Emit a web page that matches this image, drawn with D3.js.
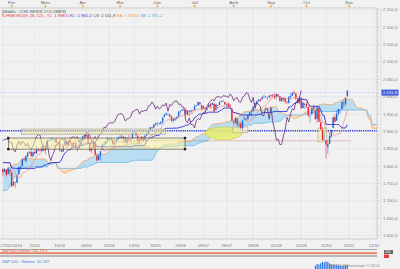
<!DOCTYPE html>
<html><head><meta charset="utf-8">
<script src="https://cdn.jsdelivr.net/npm/d3@7/dist/d3.min.js"></script>
<style>body{margin:0;background:#f1f1f1}svg{display:block}</style>
</head><body>
<script>
// ---- prehistory (Oct 2013 - Jan 24 2014), highs/lows only, needed for Ichimoku look-back
const preHigh=[1691,1687,1677,1663,1693,1703,1711,1711,1721,1733,1745,1747,1759,1753,1754,1760,1764,1772,1775,1768,
1765,1768,1767,1774,1774,1771,1773,1771,1782,1791,1798,1802,1795,1794,1797,1805,1808,1808,1808,1814,
1807,1800,1800,1793,1806,1812,1808,1805,1782,1780,1792,1787,1811,1810,1823,1829,1833,1842,1844,1842,1849,
1845,1838,1837,1840,1840,1843,1844,1843,1839,1850,1848,1846,1849,1847,1841,1826];
const preLow=[1676,1675,1655,1646,1660,1688,1686,1695,1699,1714,1733,1740,1744,1742,1747,1752,1757,1764,1757,1755,
1753,1761,1756,1765,1747,1746,1767,1763,1761,1781,1790,1788,1784,1778,1785,1794,1801,1801,1803,1804,
1798,1788,1779,1783,1791,1805,1801,1780,1773,1770,1775,1777,1767,1801,1810,1822,1828,1835,1840,1839,1842,
1828,1829,1824,1829,1831,1830,1830,1815,1820,1839,1840,1835,1833,1840,1821,1790];
// ---- daily candles 27/01/2014 -> 31/10/2014
const opens=[1791,1783,1790,1777,1790,1782,1744,1753,1752,1776,1796,1800,1820,1815,1828,1839,1841,1829,1841,1837,
1848,1846,1844,1856,1858,1849,1874,1874,1878,1877,1878,1867,1869,1845,1842,1859,1872,1860,1874,1867,
1859,1867,1852,1851,1859,1873,1886,1891,1890,1864,1845,1852,1872,1830,1818,1831,1846,1861,1865,1872,
1879,1876,1876,1865,1870,1876,1884,1885,1880,1884,1868,1878,1875,1880,1896,1897,1888,1871,1876,1884,
1874,1888,1893,1902,1911,1911,1920,1924,1923,1923,1928,1942,1948,1950,1949,1944,1931,1934,1937,1942,
1958,1960,1963,1962,1949,1960,1957,1961,1962,1973,1975,1984,1976,1966,1966,1965,1970,1978,1977,1979,
1962,1976,1976,1985,1988,1985,1978,1980,1974,1966,1929,1926,1937,1918,1923,1910,1934,1936,1935,1947,
1958,1958,1973,1980,1987,1992,1992,1998,2000,1998,1999,2004,2004,2001,1999,2007,2002,1988,1992,1996,
1986,1982,1999,2003,2013,2010,1992,1983,1997,1967,1978,1979,1971,1946,1949,1970,1962,1936,1967,1926,
1905,1877,1874,1855,1864,1885,1910,1941,1931,1951,1962,1964,1983,1978,2001];
const highs=[1795,1794,1790,1798,1793,1785,1758,1755,1774,1798,1800,1823,1826,1830,1841,1843,1847,1842,1847,1858,
1853,1853,1855,1868,1858,1876,1877,1883,1884,1877,1882,1868,1875,1852,1862,1874,1875,1874,1884,1868,
1872,1876,1855,1866,1873,1886,1893,1893,1897,1865,1854,1872,1873,1836,1835,1844,1862,1869,1872,1884,
1880,1884,1877,1877,1880,1885,1889,1892,1885,1884,1884,1890,1879,1897,1903,1897,1888,1878,1886,1885,
1888,1896,1901,1912,1914,1920,1925,1926,1925,1929,1942,1950,1956,1951,1949,1945,1938,1941,1944,1958,
1961,1964,1963,1968,1960,1960,1961,1963,1978,1976,1985,1984,1976,1973,1969,1968,1979,1982,1983,1982,
1980,1976,1987,1989,1991,1985,1982,1984,1980,1966,1932,1942,1937,1929,1928,1932,1944,1940,1948,1955,
1965,1972,1982,1988,1993,1994,2001,2005,2003,1999,2004,2006,2008,2011,2008,2008,2002,1996,1997,1996,
1987,2002,2010,2012,2019,2010,1995,1999,1998,1986,1982,1985,1971,1952,1969,1977,1962,1970,1968,1935,
1912,1898,1874,1876,1898,1905,1942,1950,1961,1965,1964,1985,1991,1999,2018];
const lows=[1772,1783,1770,1777,1772,1739,1744,1737,1752,1776,1791,1800,1815,1810,1825,1835,1826,1825,1835,1837,
1842,1842,1841,1846,1834,1849,1871,1874,1874,1868,1866,1858,1843,1840,1842,1859,1851,1855,1863,1848,
1855,1852,1842,1851,1859,1873,1883,1883,1863,1841,1837,1852,1833,1815,1818,1816,1846,1857,1864,1872,
1874,1870,1860,1851,1870,1873,1878,1879,1867,1867,1862,1871,1869,1880,1895,1886,1863,1865,1872,1868,
1874,1888,1893,1902,1907,1910,1916,1915,1918,1919,1922,1941,1947,1945,1940,1928,1926,1930,1934,1939,
1951,1959,1958,1948,1947,1944,1953,1958,1962,1972,1975,1975,1959,1964,1953,1959,1970,1966,1975,1955,
1962,1965,1976,1984,1985,1975,1968,1969,1965,1931,1917,1921,1913,1911,1905,1904,1934,1930,1935,1945,
1942,1958,1973,1977,1986,1985,1992,1998,1997,1990,1995,1995,1999,1992,1992,1998,1985,1984,1986,1980,
1978,1980,1994,2003,2007,1991,1982,1978,1966,1967,1964,1968,1941,1926,1949,1958,1935,1925,1927,1906,
1874,1872,1821,1835,1864,1882,1910,1927,1931,1946,1951,1964,1970,1973,2001];
const closes=[1782,1792,1774,1794,1783,1742,1755,1752,1773,1797,1800,1820,1819,1830,1839,1841,1829,1840,1836,1848,
1845,1845,1854,1859,1846,1874,1874,1877,1878,1877,1868,1868,1846,1841,1859,1872,1861,1872,1867,1857,
1866,1853,1849,1858,1872,1886,1891,1889,1865,1845,1852,1872,1833,1816,1831,1843,1862,1865,1872,1880,
1875,1879,1863,1869,1878,1884,1884,1881,1885,1868,1878,1876,1878,1897,1897,1889,1871,1878,1885,1873,
1888,1892,1901,1912,1910,1920,1924,1925,1924,1928,1940,1949,1951,1951,1944,1930,1936,1938,1942,1957,
1959,1963,1963,1950,1960,1957,1961,1960,1973,1975,1985,1978,1964,1973,1965,1968,1977,1973,1982,1958,
1978,1974,1984,1987,1988,1978,1979,1970,1970,1931,1925,1939,1920,1920,1910,1932,1937,1934,1947,1955,
1955,1972,1982,1987,1992,1988,1998,2000,2000,1997,2003,2002,2001,1998,2008,2002,1988,1996,1997,1986,
1984,1999,2002,2011,2010,1994,1983,1998,1966,1983,1978,1972,1946,1946,1968,1965,1935,1969,1928,1906,
1875,1878,1862,1863,1887,1904,1941,1927,1951,1965,1962,1985,1982,1995,2018];
// volume bars (last sessions only shown by the feed)
const volStart=176;
const volumes=[3.1,4.6,4.2,5.4,6.6,6.1,7.0,6.4,5.2,4.0,4.4,3.7,3.9,3.2,3.1,3.0,3.3,3.4,4.1];

const monthLabels=["Fév","Mars","Avr","Mai","Juin","Juil","Août","Sep","Oct","Nov"];
const monthIdx=[5,24,45,66,87,108,130,151,171,195];
const dateLabels=["27/01/2014","21/02","13/03","03/04","23/04","13/05","30/05","19/06","09/07","28/07","18/08","05/09","25/09","15/10","03/11","21/11"];
const dateIdx=[0,18,32,47,60,74,86,100,113,126,141,154,168,182,195,209];
const yTicks=[1600,1650,1700,1750,1800,1850,1900,1950,2000,2050,2100,2150,2200,2250];
const lastPrice=2011.8;
const supportLevel=1902, redLevel=1873;

const W=400,H=269;
const PL=0,PR=377,PT=8,PB=239;
const svg=d3.select("body").append("svg").attr("width",W).attr("height",H)
  .style("font-family","'Liberation Sans',Arial,sans-serif");
svg.append("rect").attr("width",W).attr("height",H).attr("fill","#f1f1f1");

const x=d3.scaleLinear().domain([0,209]).range([2.8,2.8+209*1.776]);
const y=d3.scaleLinear().domain([1600,2250]).range([235.6,9.9]);
const fmt=v=>{const s=d3.format(",.1f")(v).replace(/,/g," ").replace(".",",");return s;};

svg.append("defs").append("clipPath").attr("id","clip").append("rect")
  .attr("x",PL).attr("y",PT).attr("width",PR-PL).attr("height",PB-PT);

// grid
const grid=svg.append("g");
grid.selectAll(".hg").data(yTicks).join("line").attr("x1",PL).attr("x2",PR)
  .attr("y1",d=>y(d)).attr("y2",d=>y(d)).attr("stroke","#e2e2e2").attr("stroke-width",0.6);
grid.selectAll(".vg").data(dateIdx).join("line").attr("y1",PT).attr("y2",PB)
  .attr("x1",d=>x(d)).attr("x2",d=>x(d)).attr("stroke","#e2e2e2").attr("stroke-width",0.6);

// ichimoku
const off=preHigh.length;
const HH=preHigh.concat(highs), LL=preLow.concat(lows);
function mid(end,n){const s=end-n+1;if(s<0)return null;let h=-Infinity,l=Infinity;
  for(let i=s;i<=end;i++){h=Math.max(h,HH[i]);l=Math.min(l,LL[i]);}return (h+l)/2;}
const N=closes.length;
const tenkan=d3.range(N).map(t=>({t,v:mid(t+off,9)}));
const kijun=d3.range(N).map(t=>({t,v:mid(t+off,26)}));
const senkou=d3.range(N+26).map(t=>{const s=t-26+off;return {t,a:(mid(s,9)+mid(s,26))/2,b:mid(s,52)};});
const chikou=d3.range(N-26).map(t=>({t,v:closes[t+26]}));

const plot=svg.append("g").attr("clip-path","url(#clip)");
plot.append("path").datum(senkou).attr("fill","#b3daf1").attr("opacity",0.9)
  .attr("d",d3.area().x(d=>x(d.t)).y0(d=>y(d.b)).y1(d=>y(Math.max(d.a,d.b))));
plot.append("path").datum(senkou).attr("fill","#f9d9b9").attr("opacity",0.9)
  .attr("d",d3.area().x(d=>x(d.t)).y0(d=>y(d.b)).y1(d=>y(Math.min(d.a,d.b))));
plot.append("path").datum(senkou).attr("fill","none").attr("stroke","#f2a65a").attr("stroke-width",0.8)
  .attr("d",d3.line().x(d=>x(d.t)).y(d=>y(d.a)));
plot.append("path").datum(senkou).attr("fill","none").attr("stroke","#6cb8e6").attr("stroke-width",0.8)
  .attr("d",d3.line().x(d=>x(d.t)).y(d=>y(d.b)));

// horizontal levels
plot.append("line").attr("x1",PL).attr("x2",PR).attr("y1",y(lastPrice)).attr("y2",y(lastPrice))
  .attr("stroke","#b7b0f2").attr("stroke-width",0.7).attr("stroke-dasharray","1,1");
plot.append("line").attr("x1",PL).attr("x2",PR).attr("y1",y(supportLevel)).attr("y2",y(supportLevel))
  .attr("stroke","#2a3ad8").attr("stroke-width",1.3).attr("stroke-dasharray","1.2,1");
plot.append("line").attr("x1",x(69)).attr("x2",x(196)).attr("y1",y(redLevel)).attr("y2",y(redLevel))
  .attr("stroke","#e05050").attr("stroke-width",0.7).attr("stroke-dasharray","1,1");

// drawn objects
plot.append("ellipse").attr("cx",x(124.3)).attr("cy",y(1894.5)).attr("rx",x(134.7)-x(124.3)).attr("ry",y(1876)-y(1894.5))
  .attr("fill","#e9ee6a").attr("fill-opacity",0.85).attr("stroke","#c9c84a").attr("stroke-width",0.6);
plot.append("rect").attr("x",x(129.6)).attr("y",y(1913)).attr("width",x(138)-x(129.6)).attr("height",y(1896)-y(1913))
  .attr("fill","#f5f0b0").attr("fill-opacity",0.7).attr("stroke","#9a9a80").attr("stroke-width",0.5);
plot.append("rect").attr("x",x(177.5)).attr("y",y(1910)).attr("width",x(182.5)-x(177.5)).attr("height",y(1870)-y(1910))
  .attr("fill","#f5f0b0").attr("fill-opacity",0.7).attr("stroke","#9a9a80").attr("stroke-width",0.5);

// candles
const cg=plot.append("g");
const idx=d3.range(N);
const col=i=>closes[i]>=opens[i]?"#1c62d8":"#e6242b";
cg.selectAll(".w").data(idx).join("line").attr("x1",i=>x(i)).attr("x2",i=>x(i))
  .attr("y1",i=>y(highs[i])).attr("y2",i=>y(lows[i])).attr("stroke",col).attr("stroke-width",0.5);
cg.selectAll(".b").data(idx).join("rect").attr("x",i=>x(i)-0.65).attr("width",1.3)
  .attr("y",i=>y(Math.max(opens[i],closes[i])))
  .attr("height",i=>Math.max(0.5,Math.abs(y(opens[i])-y(closes[i])))).attr("fill",col);

// ichimoku lines
const ln=d3.line().defined(d=>d.v!=null).x(d=>x(d.t)).y(d=>y(d.v));
plot.append("path").datum(tenkan).attr("fill","none").attr("stroke","#f08a8a").attr("stroke-width",0.7).attr("d",ln);
plot.append("path").datum(kijun).attr("fill","none").attr("stroke","#2b2fd0").attr("stroke-width",0.9).attr("d",ln);
plot.append("path").datum(chikou).attr("fill","none").attr("stroke","#6b2c78").attr("stroke-width",0.8).attr("d",ln);

// rectangles (on top)
plot.append("rect").attr("x",x(10.5)).attr("y",y(1907)).attr("width",x(91.5)-x(10.5)).attr("height",y(1892)-y(1907))
  .attr("fill","#e6e2a0").attr("fill-opacity",0.55).attr("stroke","#a0a090").attr("stroke-width",0.6);
const r2={i0:3.1,i1:102.6,p0:1849,p1:1881};
plot.append("rect").attr("x",x(r2.i0)).attr("y",y(r2.p1)).attr("width",x(r2.i1)-x(r2.i0)).attr("height",y(r2.p0)-y(r2.p1))
  .attr("fill","#fbf3a0").attr("fill-opacity",0.5).attr("stroke","#444").attr("stroke-width",0.6);
[[r2.i0,r2.p0],[r2.i0,r2.p1],[r2.i1,r2.p0],[r2.i1,r2.p1]].forEach(([i,p])=>
  plot.append("rect").attr("x",x(i)-1.2).attr("y",y(p)-1.2).attr("width",2.4).attr("height",2.4).attr("fill","#222"));

// top ruler
svg.append("line").attr("x1",0).attr("x2",PR).attr("y1",PT).attr("y2",PT).attr("stroke","#bbb").attr("stroke-width",0.6);
svg.selectAll(".tt").data(d3.range(0,210,3)).join("line").attr("x1",d=>x(d)).attr("x2",d=>x(d))
  .attr("y1",PT).attr("y2",PT-1.2).attr("stroke","#bbb").attr("stroke-width",0.4);
monthIdx.forEach((m,k)=>{
  svg.append("text").attr("x",x(m)).attr("y",4.3).attr("text-anchor","middle").attr("font-size",4.3).attr("fill","#666").text(monthLabels[k]);
  svg.append("path").attr("d",`M${x(m)-1.3},${5.2}L${x(m)+1.3},${5.2}L${x(m)},${7.8}Z`).attr("fill","#f0a030");
});

// right axis
svg.append("line").attr("x1",PR).attr("x2",PR).attr("y1",PT).attr("y2",PB).attr("stroke","#bbb").attr("stroke-width",0.6);
svg.append("line").attr("x1",PR+4).attr("x2",PR+4).attr("y1",PT).attr("y2",PB).attr("stroke","#ccc").attr("stroke-width",0.5);
svg.selectAll(".mt").data(d3.range(1600,2251,10)).join("line").attr("x1",PR).attr("x2",d=>PR+(d%50===0?3:1.5))
  .attr("y1",d=>y(d)).attr("y2",d=>y(d)).attr("stroke","#aaa").attr("stroke-width",0.4);
svg.selectAll(".yl").data(yTicks).join("text").attr("x",PR+6).attr("y",d=>y(d)+1.5).attr("font-size",4.3)
  .attr("fill","#777").text(d=>fmt(d));
svg.append("rect").attr("x",PR+4.5).attr("y",y(lastPrice)-3).attr("width",17).attr("height",6).attr("fill","#3d5be0");
svg.append("text").attr("x",PR+6).attr("y",y(lastPrice)+1.5).attr("font-size",4.3).attr("fill","#fff").text(fmt(lastPrice));

// bottom ruler & date labels
svg.append("line").attr("x1",0).attr("x2",PR).attr("y1",PB).attr("y2",PB).attr("stroke","#bbb").attr("stroke-width",0.6);
svg.selectAll(".bt").data(d3.range(0,210,3)).join("line").attr("x1",d=>x(d)).attr("x2",d=>x(d))
  .attr("y1",PB).attr("y2",PB+1.2).attr("stroke","#bbb").attr("stroke-width",0.4);
svg.selectAll(".xl").data(dateIdx).join("text").attr("x",(d,k)=>k===0?0.5:x(d)).attr("y",246.5)
  .attr("text-anchor",(d,k)=>k===0?"start":"middle").attr("font-size",4.3).attr("fill","#777").text((d,k)=>dateLabels[k]);

// legend
svg.append("text").attr("x",2).attr("y",12.5).attr("font-size",4.3).attr("fill","#555").text("[Middle : ICHI-RESIS-VOLUMES]");
const leg=svg.append("text").attr("x",2).attr("y",17).attr("font-size",4.3);
[["ICHIMOKU(9, 26, 52) - TL: 1 998,0  ","#e0303a"],["KL: 1 965,2  ","#3040d8"],["CS: 2 011,8  ","#555"],["SA: 1 939,6  ","#f0a040"],["SB: 1 911,2","#50a8e0"]]
  .forEach(([t,c])=>leg.append("tspan").attr("fill",c).text(t));

// indicator panel
svg.append("rect").attr("x",0).attr("y",249.5).attr("width",PR).attr("height",7).attr("fill","#ececec");
svg.append("line").attr("x1",0).attr("x2",PR).attr("y1",249.5).attr("y2",249.5).attr("stroke","#999").attr("stroke-width",0.8);
svg.append("line").attr("x1",0).attr("x2",PR).attr("y1",253.2).attr("y2",253.2).attr("stroke","#e4572e").attr("stroke-width",1.2);
svg.append("line").attr("x1",0).attr("x2",PR).attr("y1",256).attr("y2",256).attr("stroke","#777").attr("stroke-width",0.9);
svg.append("text").attr("x",2).attr("y",252.3).attr("font-size",4).attr("fill","#e0502a").text("S&P500 Closes: 111,79,3");
// volume panel
svg.append("text").attr("x",2).attr("y",263).attr("font-size",4).attr("fill","#3a7ae0").text("S&P 500 - Volume: 10 747");
const vy=d3.scaleLinear().domain([0,7]).range([269,261.5]);
svg.selectAll(".vb").data(volumes).join("rect").attr("x",(d,k)=>x(volStart+k)-0.6).attr("width",1.2)
  .attr("y",d=>vy(d)).attr("height",d=>269-vy(d)).attr("fill","#2a7ae8");
svg.append("text").attr("x",330).attr("y",267).attr("font-size",4).attr("fill","#888").text("FXCM Marketscope © 2014");
svg.append("rect").attr("x",384).attr("y",250).attr("width",9).attr("height",4).attr("fill","#666");
svg.append("text").attr("x",385).attr("y",253.3).attr("font-size",3.3).attr("fill","#fff").text("100");
svg.append("rect").attr("x",384).attr("y",254.5).attr("width",5).attr("height",3.5).attr("fill","#e04040");
</script>
</body></html>
